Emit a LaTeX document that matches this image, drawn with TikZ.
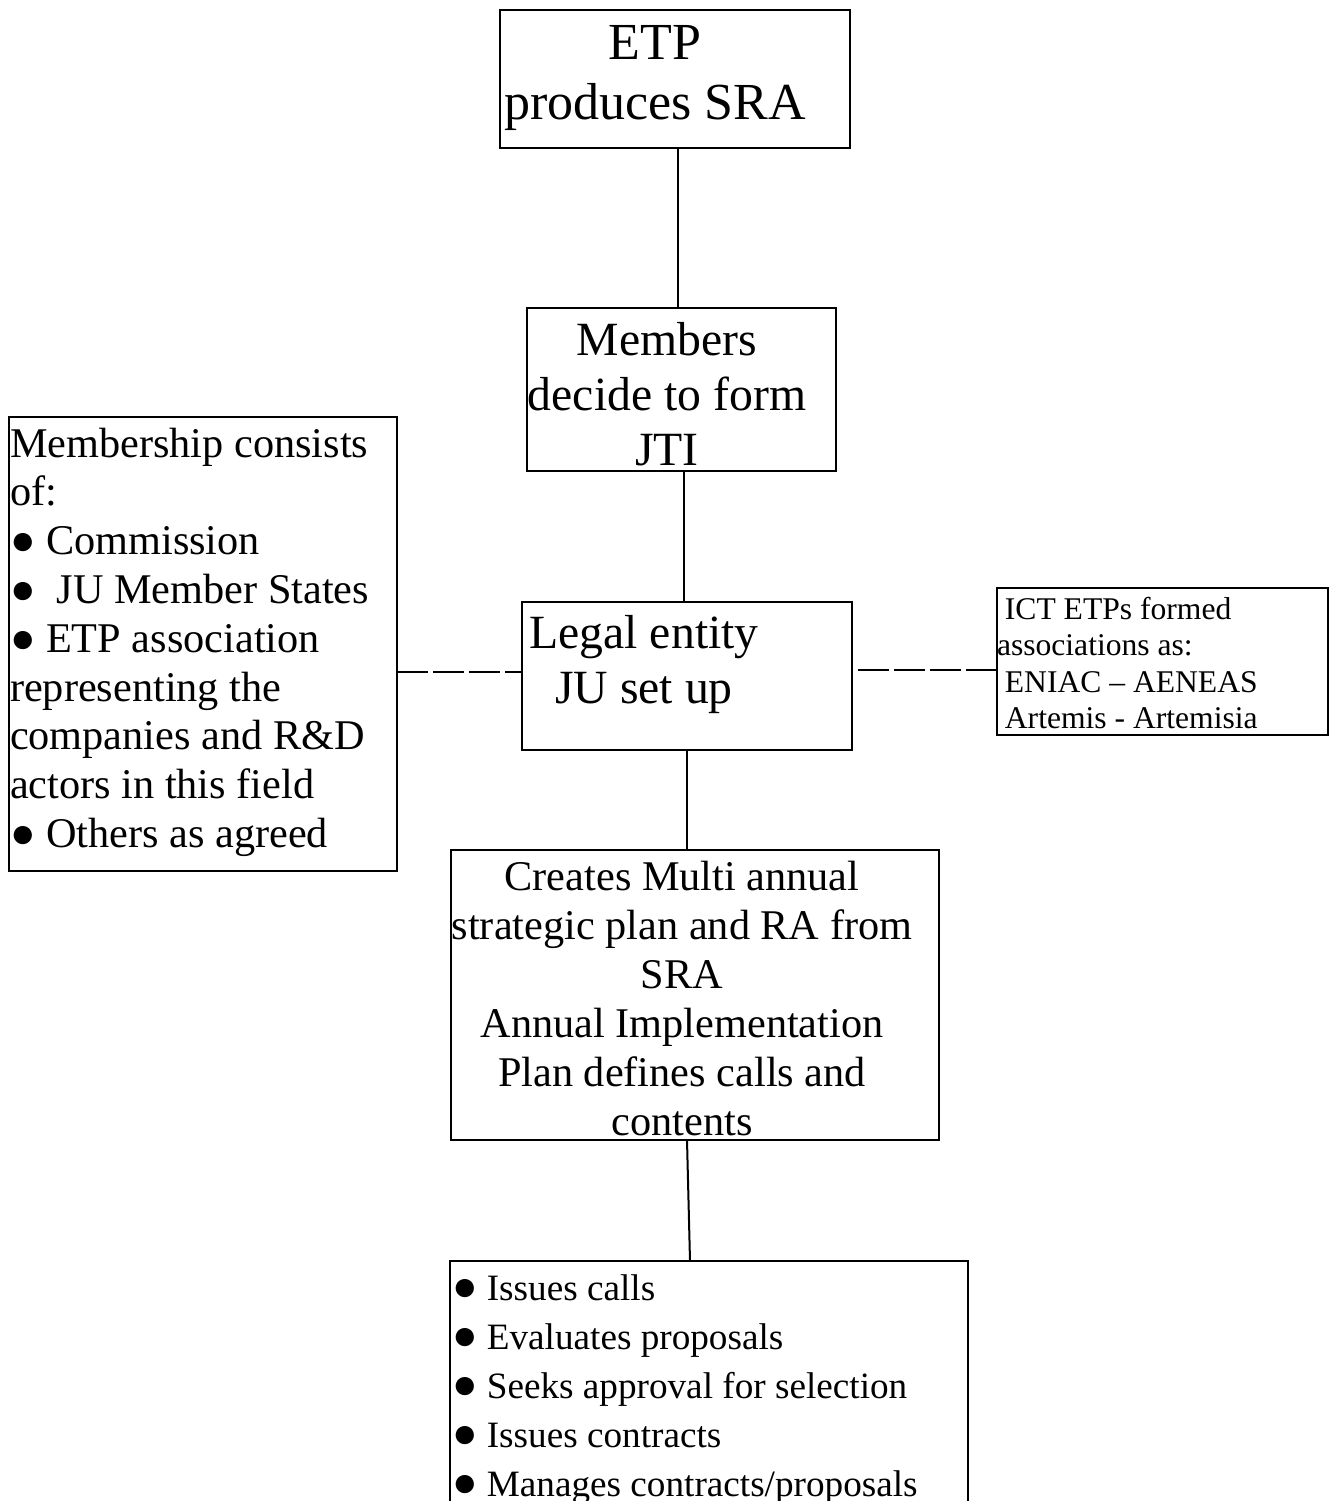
\documentclass[tikz,border=0pt]{standalone}
\usepackage{fontspec}
\setmainfont{Liberation Serif}
\newcommand\sizeTitle{\fontsize{52}{60}\selectfont}
\newcommand\sizeMid{\fontsize{47.7}{55}\selectfont}
\newcommand\sizeBody{\fontsize{42.3}{49}\selectfont}
\newcommand\sizeList{\fontsize{37.2}{49}\selectfont}
\newcommand\sizeSmall{\fontsize{31.6}{36.5}\selectfont}
% list bullet set at the body size
\newcommand\bigdot{{\sizeBody ●}}
\begin{document}
\begin{tikzpicture}[x=1pt,y=-1pt,
  box/.style={draw, line width=2pt, inner sep=0pt, outer sep=0pt},
  txt/.style={inner sep=0pt, outer sep=0pt, anchor=base},
  ltxt/.style={inner sep=0pt, outer sep=0pt, anchor=base west},
  link/.style={line width=2pt},
  dlink/.style={line width=2pt, dash pattern=on 31pt off 5pt}]
\useasboundingbox (0,0) rectangle (1331,1501);
\clip (0,0) rectangle (1331,1501);

% frames
\node[box, minimum width=350, minimum height=138] (etp) at (675,79) {};
\node[box, minimum width=309, minimum height=163] (members) at (681.5,389.5) {};
\node[box, minimum width=388, minimum height=454] (mship) at (203,644) {};
\node[box, minimum width=330, minimum height=148] (legal) at (687,676) {};
\node[box, minimum width=331, minimum height=147] (ict) at (1162.5,661.5) {};
\node[box, minimum width=488, minimum height=290] (creates) at (695,995) {};
\node[box, minimum width=518, minimum height=269] (tasks) at (709,1395.5) {};

% texts
\foreach \t [count=\i from 0] in {ETP, produces SRA}
  \node[txt, font=\sizeTitle] (etp-\i) at (655, 60+60*\i) {\t};

\foreach \t [count=\i from 0] in {Members, decide to form, JTI}
  \node[txt, font=\sizeMid] (members-\i) at (667, 355+55*\i) {\t};

\foreach \t [count=\i from 0] in {Legal entity, JU set up}
  \node[txt, font=\sizeMid] (legal-\i) at (644, 648+55*\i) {\t};

\foreach \t [count=\i from 0] in {Membership consists, of:, ● Commission,
    ●\ \ JU Member States, ● ETP association, representing the,
    companies and R\&D, actors in this field, ● Others as agreed}
  \node[ltxt, font=\sizeBody] (mship-\i) at (10, 457+48.8*\i) {\t};

\foreach \t [count=\i from 0] in {\ ICT ETPs formed, associations as:,
    \ ENIAC – AENEAS, \ Artemis - Artemisia}
  \node[ltxt, font=\sizeSmall] (ict-\i) at (997, 619+36.5*\i) {\t};

\foreach \t [count=\i from 0] in {Creates Multi annual,
    strategic plan and RA from, SRA, Annual Implementation,
    Plan defines calls and, contents}
  \node[txt, font=\sizeBody] (creates-\i) at (682, 890+49*\i) {\t};

\foreach \t [count=\i from 0] in {Issues calls, Evaluates proposals,
    Seeks approval for selection, Issues contracts,
    Manages contracts/proposals}
  \node[ltxt, font=\sizeList] (tasks-\i) at (452, 1300+49*\i) {\bigdot\ \t};

% connectors
\draw[link] ([xshift=3pt]etp.south) -- ([xshift=-3.5pt]members.north);
\draw[link] ([xshift=2.5pt]members.south) -- ([xshift=-3pt]legal.north);
\draw[link] (legal.south) -- ([xshift=-8pt]creates.north);
\draw[link] ([xshift=-8pt]creates.south) -- ([xshift=-19pt]tasks.north);
\draw[dlink] ([yshift=-28pt]mship.east) -- ([yshift=4pt]legal.west);
\draw[dlink] ([yshift=-8.5pt]ict.west) -- ([yshift=6pt]legal.east);
\end{tikzpicture}
\end{document}
